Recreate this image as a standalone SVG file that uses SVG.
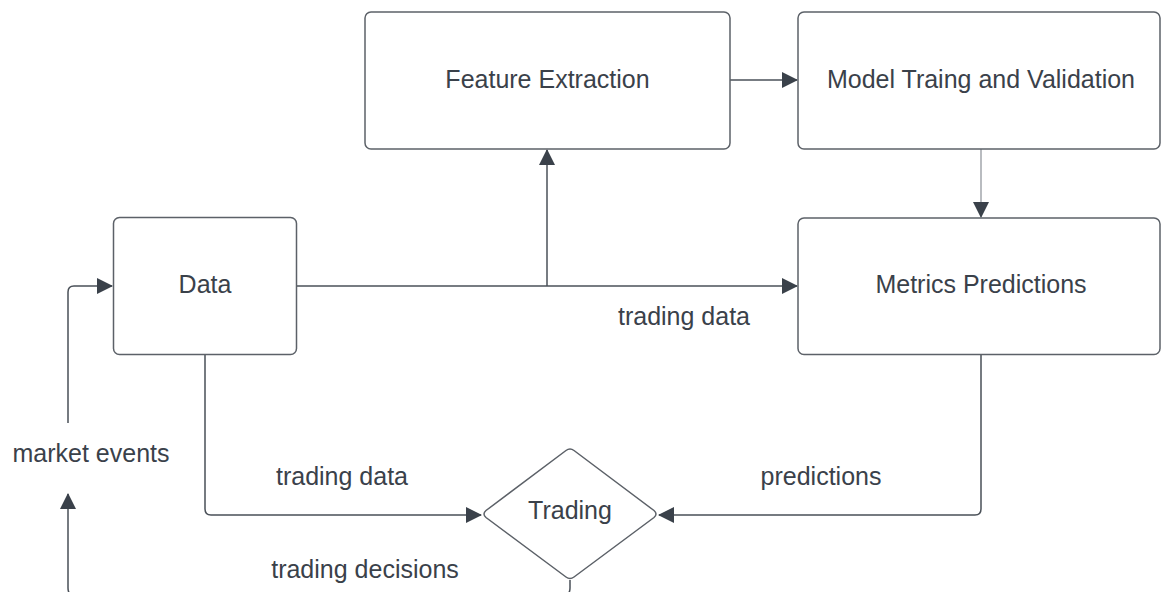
<svg xmlns="http://www.w3.org/2000/svg" width="1162" height="592" viewBox="0 0 1162 592">
<defs>
<style>
.box{fill:#ffffff;stroke:#5c6168;stroke-width:1.5}
.t{font-family:"Liberation Sans",Arial,sans-serif;font-size:25px;fill:#3a414a;text-anchor:middle}
.c{fill:none;stroke:#4a5058;stroke-width:1.5}
.cl{fill:none;stroke:#8a8f96;stroke-width:1.2}
</style>
<marker id="ah" viewBox="0 0 16 16" refX="15" refY="8" markerWidth="16" markerHeight="16" markerUnits="userSpaceOnUse" orient="auto">
<path d="M0,0 L16,8 L0,16 z" fill="#3a414a"/>
</marker>
</defs>
<rect width="1162" height="592" fill="#ffffff"/>
<g id="connectors">
<path class="c" d="M297,286 H797" marker-end="url(#ah)"/>
<path class="c" d="M547,286 V150" marker-end="url(#ah)"/>
<path class="c" d="M730,80 H797" marker-end="url(#ah)"/>
<path class="cl" d="M981,149 V217" marker-end="url(#ah)"/>
<path class="c" d="M205,355 V509 Q205,515 211,515 H481" marker-end="url(#ah)"/>
<path class="c" d="M981,355 V509 Q981,515 975,515 H659" marker-end="url(#ah)"/>
<path class="c" d="M570,580 V588 Q570,596 562,596 H76 Q68,596 68,588 V494" marker-end="url(#ah)"/>
<path class="c" d="M68,423 V292 Q68,286 74,286 H112" marker-end="url(#ah)"/>
</g>
<g id="labels">
<text class="t" x="684" y="325">trading data</text>
<text class="t" x="342" y="485">trading data</text>
<text class="t" x="821" y="485">predictions</text>
<text class="t" x="91" y="462">market events</text>
<text class="t" x="365" y="578">trading decisions</text>
</g>
<g id="feature-extraction">
<rect class="box" x="365" y="12" width="365" height="137" rx="6"/>
<text class="t" x="547.5" y="88">Feature Extraction</text>
</g>
<g id="model-training">
<rect class="box" x="798" y="12" width="362" height="137" rx="6"/>
<text class="t" x="981" y="88">Model Traing and Validation</text>
</g>
<g id="data">
<rect class="box" x="113.5" y="217.5" width="183" height="137" rx="6"/>
<text class="t" x="205" y="293">Data</text>
</g>
<g id="metrics-predictions">
<rect class="box" x="798" y="218" width="362" height="136.5" rx="6"/>
<text class="t" x="981" y="293">Metrics Predictions</text>
</g>
<g id="trading">
<path class="box" d="M566,450.5 Q570,447.5 574,450.5 L654,510.5 Q658,514 654,517.5 L574,577 Q570,580 566,577 L486,517.5 Q482,514 486,510.5 Z"/>
<text class="t" x="570" y="519">Trading</text>
</g>
</svg>
